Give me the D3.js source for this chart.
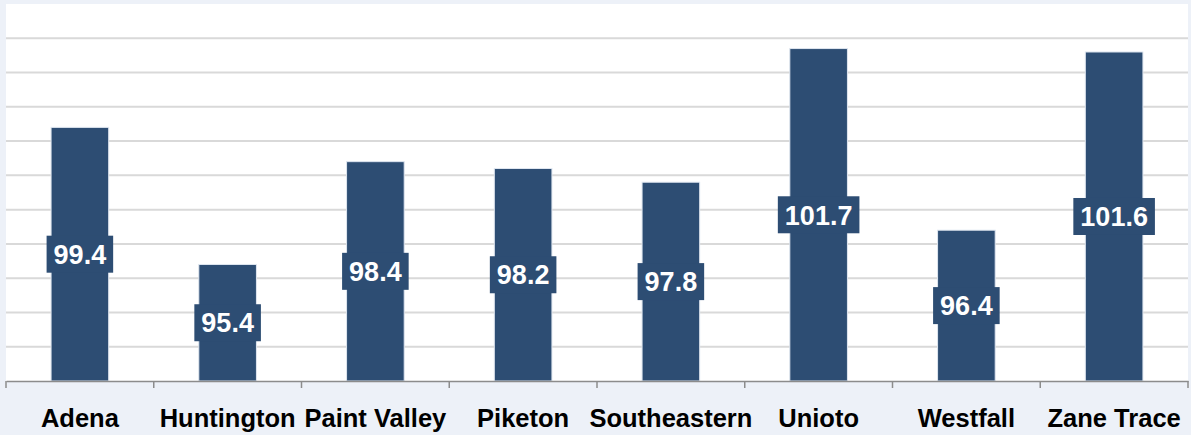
<!DOCTYPE html>
<html>
<head>
<meta charset="utf-8">
<script src="https://cdn.jsdelivr.net/npm/d3@7"></script>
<style>
  body { margin: 0; background: #edf1f8; }
  svg { display: block; }
</style>
</head>
<body>
<div id="chart"></div>
<script>
// data
const schools = ["Adena", "Huntington", "Paint Valley", "Piketon", "Southeastern", "Unioto", "Westfall", "Zane Trace"];
const scores = [99.4, 95.4, 98.4, 98.2, 97.8, 101.7, 96.4, 101.6];
const yTicks = [92, 93, 94, 95, 96, 97, 98, 99, 100, 101, 102, 103];

const width = 1191;
const height = 435;
const margin = { top: 4, right: 3, bottom: 54, left: 6 };
const barColor = "#2d4d73";

const svg = d3.select("#chart")
  .append("svg")
  .attr("width", width)
  .attr("height", height);

const x = d3.scaleBand()
  .domain(schools)
  .range([margin.left, width - margin.right])
  .paddingInner(0)
  .paddingOuter(0);

const y = d3.scaleLinear()
  .domain([92, 103])
  .range([height - margin.bottom, margin.top]);

// white plot area
svg.append("rect")
  .attr("x", margin.left)
  .attr("y", margin.top)
  .attr("width", width - margin.left - margin.right)
  .attr("height", y(92) - margin.top)
  .attr("fill", "#ffffff");

// gridlines
svg.append("g")
  .selectAll("line")
  .data(yTicks.slice(1, -1))
  .join("line")
    .attr("x1", margin.left)
    .attr("x2", width - margin.right)
    .attr("y1", d => y(d))
    .attr("y2", d => y(d))
    .attr("stroke", "#d9d9d9")
    .attr("stroke-width", 2);

// bars
const barW = x.bandwidth() * 0.39;
svg.append("g")
  .selectAll("rect")
  .data(schools)
  .join("rect")
    .attr("x", d => x(d) + (x.bandwidth() - barW) / 2)
    .attr("y", (d, i) => y(scores[i]))
    .attr("width", barW)
    .attr("height", (d, i) => y(92) - y(scores[i]))
    .attr("fill", barColor)
    .attr("stroke", "#dfe6f0")
    .attr("stroke-width", 1);

// value labels in boxes, centred on the bar
const labels = svg.append("g")
  .selectAll("g")
  .data(schools)
  .join("g")
    .attr("transform", (d, i) => `translate(${x(d) + x.bandwidth() / 2}, ${(y(scores[i]) + y(92)) / 2})`);

labels.append("text")
  .attr("text-anchor", "middle")
  .attr("dy", "0.36em")
  .attr("fill", "#ffffff")
  .attr("font-family", "Liberation Sans, Arial, sans-serif")
  .attr("font-weight", "bold")
  .attr("font-size", 27)
  .text((d, i) => scores[i].toFixed(1));

labels.each(function () {
  const g = d3.select(this);
  const bb = g.select("text").node().getBBox();
  g.insert("rect", "text")
    .attr("x", bb.x - 7)
    .attr("y", -18.5)
    .attr("width", bb.width + 14)
    .attr("height", 37)
    .attr("fill", barColor);
});

// x axis
const xAxis = d3.axisBottom(x).tickSize(0).tickPadding(28);
const gx = svg.append("g")
  .attr("transform", `translate(0, ${y(92)})`)
  .call(xAxis);
gx.select(".domain").attr("stroke", "#8c8c8c").attr("stroke-width", 1.5);
gx.selectAll("text")
  .attr("fill", "#000000")
  .attr("font-family", "Liberation Sans, Arial, sans-serif")
  .attr("font-weight", "bold")
  .attr("font-size", 25.5);

// boundary ticks between categories
gx.append("g")
  .selectAll("line")
  .data(schools.concat(["end"]))
  .join("line")
    .attr("x1", (d, i) => i < schools.length ? x(d) : x.range()[1])
    .attr("x2", (d, i) => i < schools.length ? x(d) : x.range()[1])
    .attr("y1", 0)
    .attr("y2", 7)
    .attr("stroke", "#8c8c8c")
    .attr("stroke-width", 1.5);
</script>
</body>
</html>
